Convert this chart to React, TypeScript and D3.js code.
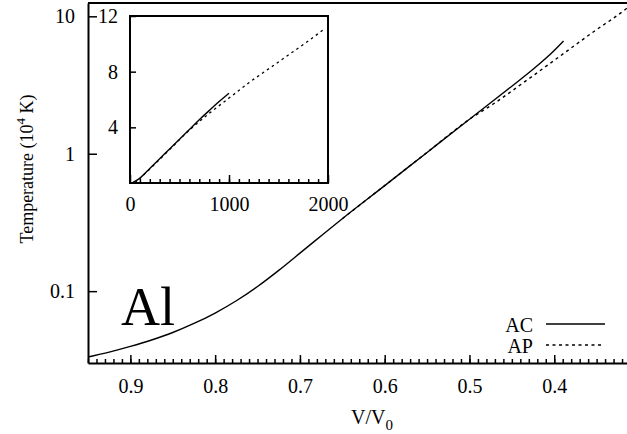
import { useEffect, useRef } from "react";
import * as d3 from "d3";

// main panel: temperature (10^4 K) vs compression V/V0
const acVolume = [0.95, 0.925, 0.9, 0.875, 0.85, 0.825, 0.8, 0.775, 0.75, 0.725, 0.7, 0.65, 0.6, 0.55, 0.5, 0.45, 0.425, 0.4, 0.389];
const acTemp = [0.0332, 0.036, 0.0396, 0.0441, 0.05, 0.0582, 0.0693, 0.0851, 0.1081, 0.1416, 0.189, 0.3367, 0.5863, 1.022, 1.781, 3.1, 4.115, 5.64, 6.61];
const apVolume = [0.65, 0.6, 0.55, 0.5, 0.472, 0.432, 0.393, 0.354, 0.314, 0.3];
const apTemp = [0.3367, 0.5863, 1.022, 1.781, 2.3, 3.44, 5.14, 7.69, 11.49, 13.6];

// inset (linear axes)
const insetAcX = [30, 100, 200, 300, 400, 500, 600, 700, 800, 900, 1000];
const insetAcY = [0.05, 0.35, 1.05, 1.75, 2.45, 3.15, 3.85, 4.55, 5.2, 5.85, 6.45];
const insetApX = [50, 200, 400, 600, 800, 1000, 1200, 1400, 1600, 1800, 1950];
const insetApY = [0, 1.0, 2.4, 3.8, 5.0, 6.1, 7.2, 8.2, 9.2, 10.2, 11.0];

const xTicks = [0.9, 0.8, 0.7, 0.6, 0.5, 0.4];
const yTicks = [0.1, 1, 10];
const yTickLabels = ["0.1", "1", "10"];
const insetXTicks = [0, 1000, 2000];
const insetYTicks = [4, 8, 12];
const legendLabels = ["AC", "AP"];

const font = "'Liberation Serif', 'Times New Roman', serif";

function App() {
  const ref = useRef<SVGSVGElement>(null);

  useEffect(() => {
    const svg = d3.select(ref.current);
    svg.selectAll("*").remove();
    svg.style("font-family", font);

    const left = 88, top = 3, bottom = 363, right = 639;
    const x = d3.scaleLinear().domain([0.95, 0.3]).range([left, right]);
    const y = d3.scaleLog().domain([0.03, 12.5]).range([bottom, top]);

    svg.append("defs").append("clipPath").attr("id", "plotclip")
      .append("rect").attr("x", left).attr("y", top).attr("width", 627 - left).attr("height", bottom - top);

    // curves
    const line = d3.line<[number, number]>().x((d) => x(d[0])).y((d) => y(d[1])).curve(d3.curveMonotoneX);
    const g = svg.append("g").attr("clip-path", "url(#plotclip)");
    g.append("path")
      .datum(acVolume.map((v, i) => [v, acTemp[i]] as [number, number]))
      .attr("fill", "none").attr("stroke", "#000").attr("stroke-width", 1.4)
      .attr("d", line);
    g.append("path")
      .datum(apVolume.map((v, i) => [v, apTemp[i]] as [number, number]))
      .attr("fill", "none").attr("stroke", "#000").attr("stroke-width", 1.4)
      .attr("stroke-dasharray", "3,3.5")
      .attr("d", line);

    // x axis with minor ticks every 0.01
    const minor = d3.range(31, 96).map((d) => d / 100);
    svg.append("g").attr("transform", `translate(0,${bottom})`)
      .call(d3.axisBottom(x).tickValues(minor).tickSize(-4).tickSizeOuter(0).tickFormat(() => ""))
      .call((a) => a.select(".domain").remove());
    const xa = svg.append("g").attr("transform", `translate(0,${bottom})`)
      .call(d3.axisBottom(x).tickValues(xTicks).tickSize(-8).tickSizeOuter(0).tickPadding(16).tickFormat(d3.format(".1f")));
    xa.select(".domain").attr("stroke-width", 2);
    xa.selectAll("text").attr("font-size", 20).attr("font-family", font).attr("fill", "#000");
    svg.selectAll(".tick line").attr("stroke-width", 1.5);

    // y axis
    const ya = svg.append("g").attr("transform", `translate(${left},0)`)
      .call(d3.axisLeft(y).tickValues(yTicks).tickSize(-9).tickSizeOuter(0).tickPadding(13)
        .tickFormat((d, i) => yTickLabels[i]));
    ya.select(".domain").attr("stroke-width", 2);
    ya.selectAll(".tick line").attr("stroke-width", 1.5);
    ya.selectAll("text").attr("font-size", 20).attr("font-family", font).attr("fill", "#000");

    // top frame line
    svg.append("line").attr("x1", left).attr("x2", 627).attr("y1", top).attr("y2", top)
      .attr("stroke", "#000").attr("stroke-width", 2);

    // axis titles
    const xt = svg.append("text").attr("x", 372).attr("y", 424).attr("text-anchor", "middle")
      .attr("font-size", 20).text("V/V");
    xt.append("tspan").attr("font-size", 15).attr("dy", 6).text("0");

    const yt = svg.append("text").attr("transform", "translate(33,169) rotate(-90)")
      .attr("text-anchor", "middle").attr("font-size", 18).text("Temperature (10");
    yt.append("tspan").attr("font-size", 13).attr("dy", -8).text("4");
    yt.append("tspan").attr("dy", 8).text(" K)");

    // big label
    svg.append("text").attr("x", 121).attr("y", 325).attr("font-size", 54).text("Al");

    // legend
    const legendY = [324, 345];
    legendLabels.forEach((lab, i) => {
      svg.append("text").attr("x", 533).attr("y", legendY[i] + 7.5).attr("text-anchor", "end")
        .attr("font-size", 20).text(lab);
      svg.append("line").attr("x1", 546).attr("x2", i === 0 ? 605 : 602)
        .attr("y1", legendY[i]).attr("y2", legendY[i])
        .attr("stroke", "#000").attr("stroke-width", 1.4)
        .attr("stroke-dasharray", i === 0 ? null : "3,3.5");
    });

    // inset
    const ix = d3.scaleLinear().domain([0, 2000]).range([130, 328]);
    const iy = d3.scaleLinear().domain([0, 12]).range([183, 16]);
    svg.append("rect").attr("x", 130).attr("y", 16).attr("width", 198).attr("height", 167)
      .attr("fill", "#fff").attr("stroke", "#000").attr("stroke-width", 2);

    const iline = d3.line<[number, number]>().x((d) => ix(d[0])).y((d) => iy(d[1])).curve(d3.curveMonotoneX);
    svg.append("path")
      .datum(insetAcX.map((v, i) => [v, insetAcY[i]] as [number, number]))
      .attr("fill", "none").attr("stroke", "#000").attr("stroke-width", 1.4).attr("d", iline);
    svg.append("path")
      .datum(insetApX.map((v, i) => [v, insetApY[i]] as [number, number]))
      .attr("fill", "none").attr("stroke", "#000").attr("stroke-width", 1.3)
      .attr("stroke-dasharray", "2.5,3.5").attr("d", iline);

    svg.append("g").attr("transform", "translate(0,183)")
      .call(d3.axisBottom(ix).tickValues(d3.range(100, 2000, 100)).tickSize(-4).tickSizeOuter(0).tickFormat(() => ""))
      .call((a) => a.select(".domain").remove())
      .selectAll("line").attr("stroke-width", 1.5);
    const ixa = svg.append("g").attr("transform", "translate(0,183)")
      .call(d3.axisBottom(ix).tickValues(insetXTicks).tickSize(-8).tickSizeOuter(0).tickPadding(14)
        .tickFormat(d3.format("d")));
    ixa.select(".domain").remove();
    ixa.selectAll("line").attr("stroke-width", 1.5);
    ixa.selectAll("text").attr("font-size", 20).attr("font-family", font).attr("fill", "#000");

    const iya = svg.append("g").attr("transform", "translate(130,0)")
      .call(d3.axisLeft(iy).tickValues(insetYTicks).tickSize(-6).tickSizeOuter(0).tickPadding(12));
    iya.select(".domain").remove();
    iya.selectAll("line").attr("stroke-width", 1.5);
    iya.selectAll("text").attr("font-size", 20).attr("font-family", font).attr("fill", "#000");
  }, []);

  return (
    <svg ref={ref} width={627} height={434}
      style={{ position: "absolute", left: 0, top: 0, background: "#fff" }} />
  );
}

export default App;
